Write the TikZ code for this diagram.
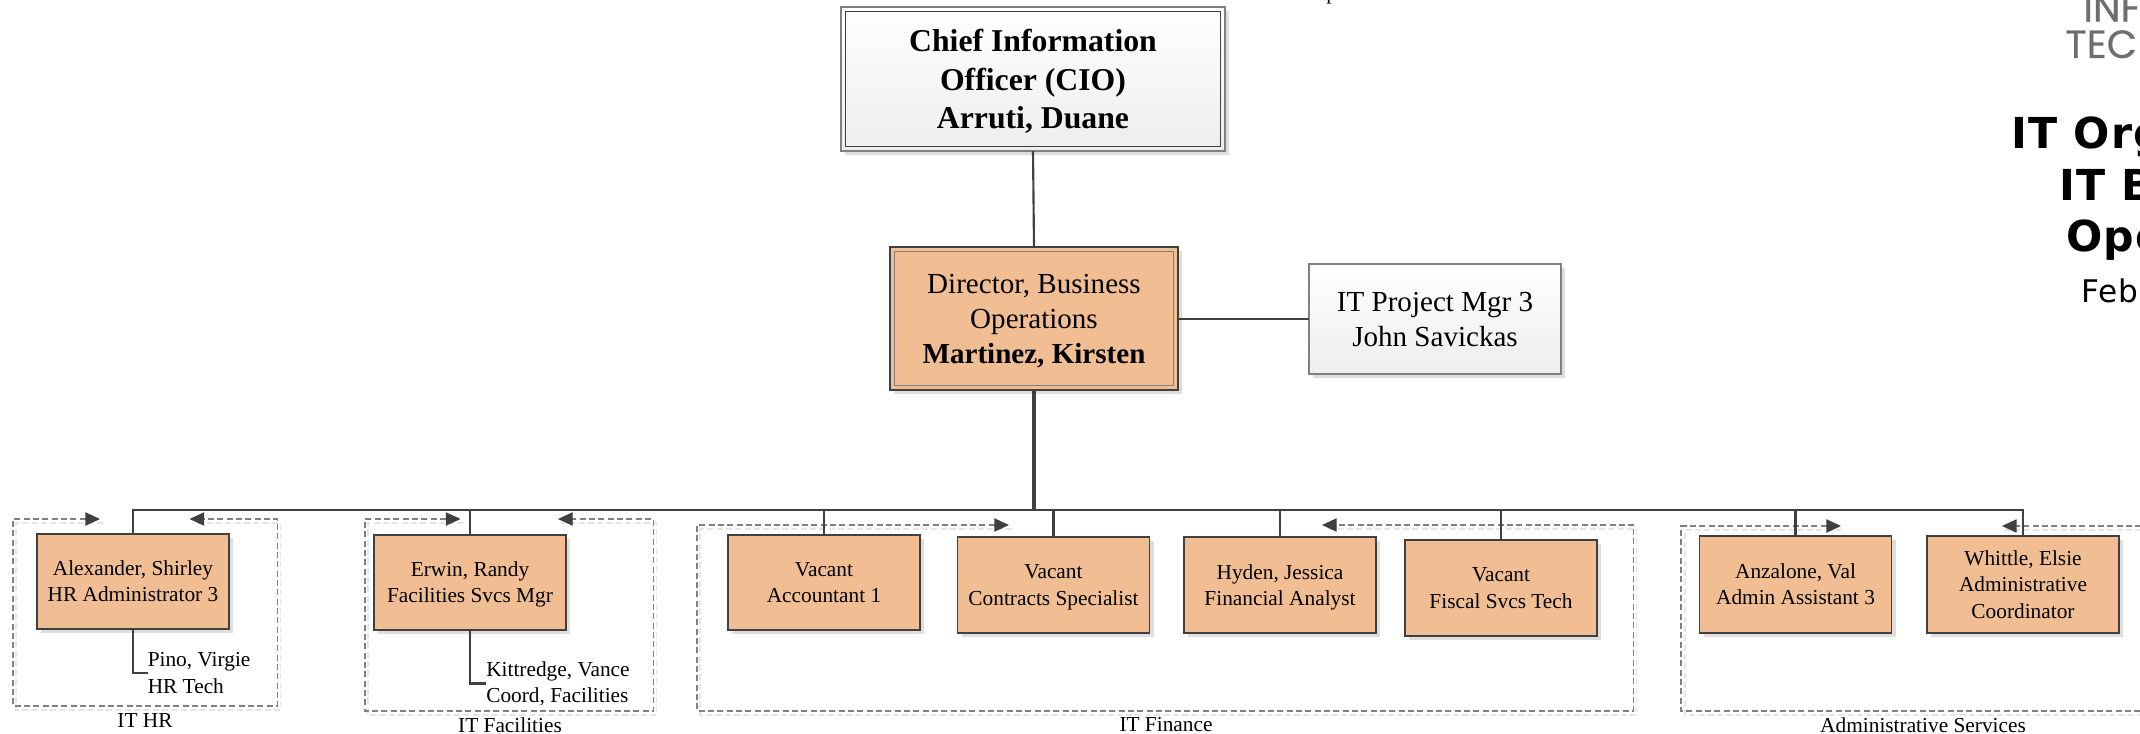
\documentclass[tikz,border=0pt]{standalone}
\usepackage{fontspec}
\setmainfont{Liberation Serif}
\newfontfamily\titlefont[LetterSpace=3]{DejaVu Sans}
\newfontfamily\logofont[FakeBold=0.5]{Poppins}
\usetikzlibrary{arrows.meta,shadows}
\definecolor{boxorange}{HTML}{F1BE94}
\definecolor{linedark}{HTML}{404040}
\definecolor{linegray}{HTML}{808080}
\definecolor{logogray}{HTML}{6D6E71}
\tikzset{
  softshadow/.style={general shadow={shadow xshift=3pt,shadow yshift=-3pt,fill=black!13}},
  box/.style={draw=linedark,line width=0.8pt,inner sep=0pt,outer sep=0pt,align=center,text depth=0pt,softshadow},
  orangebox/.style={box,fill=boxorange},
  whitebox/.style={box,draw=linegray,top color=white,bottom color=black!7},
  smalltext/.style={font=\fontsize{16}{19.6}\selectfont},
  midtext/.style={font=\fontsize{21.8}{26.3}\selectfont},
  bigtext/.style={font=\fontsize{23.8}{28.9}\selectfont\bfseries},
  leaf/.style={draw=linedark,line width=1.6pt},
  busline/.style={draw=linedark,line width=2.2pt},
  trunkline/.style={draw=linedark,line width=2.8pt},
  groupline/.style={draw=linegray,line width=0.9pt,dash pattern=on 4.5pt off 2.5pt},
  groupshadow/.style={draw=black!10,line width=1.2pt,dash pattern=on 4.5pt off 2.5pt},
  grouptips/.style={{Triangle[length=11pt,width=10pt,color=linedark]}-{Triangle[length=11pt,width=10pt,color=linedark]}},
  grouplabel/.style={smalltext,inner sep=0pt},
  titlebold/.style={anchor=base west,inner sep=0pt,font=\fontsize{32}{38}\selectfont\titlefont\bfseries},
  titleplain/.style={anchor=base west,inner sep=0pt,font=\fontsize{23.4}{28}\selectfont\titlefont},
  logotext/.style={anchor=base west,inner sep=0pt,text=logogray,font=\fontsize{29.5}{34}\selectfont\logofont},
}
\begin{document}
\begin{tikzpicture}[x=0.75pt,y=-0.75pt]
\useasboundingbox (0,0) rectangle (2140,734);

% group outlines
\foreach \a/\b/\c/\d/\e/\f in {100/13/519/706/277.5/189.5, 460.5/365/519/711/653.5/558, 1009/697/525/711/1633.5/1322}{
  \draw[groupshadow] ([shift={(3,4)}]\a,\c) -- ([shift={(3,4)}]\b,\c) -- ([shift={(3,4)}]\b,\d) -- ([shift={(3,4)}]\e,\d) -- ([shift={(3,4)}]\e,\c) -- ([shift={(3,4)}]\f,\c);
  \draw[groupline,grouptips] (\a,\c) -- (\b,\c) -- (\b,\d) -- (\e,\d) -- (\e,\c) -- (\f,\c);
}
\draw[groupshadow] (1841,530) -- (1685,530) -- (1685,715) -- (2160,715);
\draw[groupshadow] (2160,530) -- (2002,530);
\draw[groupline,{Triangle[length=11pt,width=10pt,color=linedark]}-] (1841,526) -- (1681,526) -- (1681,711) -- (2160,711);
\draw[groupline,-{Triangle[length=11pt,width=10pt,color=linedark]}] (2160,526) -- (2002,526);

% upper boxes
\node[whitebox,bigtext,minimum width=288pt,minimum height=108pt] (cio) at (1033,79) {Chief Information\\Officer (CIO)\\Arruti, Duane};
\draw[draw=linedark,line width=0.8pt] ([shift={(4.5,4.5)}]cio.north west) rectangle ([shift={(-4.5,-4.5)}]cio.south east);
\node[orangebox,midtext,minimum width=216pt,minimum height=107.25pt] (dir) at (1034,318.5) {Director, Business\\Operations\\\textbf{Martinez, Kirsten}};
\draw[draw=linegray,line width=0.8pt] ([shift={(4.5,4.5)}]dir.north west) rectangle ([shift={(-4.5,-4.5)}]dir.south east);
\node[whitebox,midtext,minimum width=189pt,minimum height=82.5pt] (proj) at (1435,319) {IT Project Mgr 3\\John Savickas};

% staff boxes
\node[orangebox,smalltext,minimum width=144pt,minimum height=71.25pt] (alex) at (133,581.5) {Alexander, Shirley\\HR Administrator 3};
\node[orangebox,smalltext,minimum width=144pt,minimum height=71.25pt] (erwin) at (470,582.5) {Erwin, Randy\\Facilities Svcs Mgr};
\node[orangebox,smalltext,minimum width=144pt,minimum height=71.25pt] (acct) at (824,582.5) {Vacant\\Accountant 1};
\node[orangebox,smalltext,minimum width=144pt,minimum height=72pt] (contr) at (1053.5,585) {Vacant\\Contracts Specialist};
\node[orangebox,smalltext,minimum width=144pt,minimum height=72pt] (hyden) at (1280,585) {Hyden, Jessica\\Financial Analyst};
\node[orangebox,smalltext,minimum width=144pt,minimum height=72pt] (fiscal) at (1501,588) {Vacant\\Fiscal Svcs Tech};
\node[orangebox,smalltext,minimum width=144pt,minimum height=72.75pt] (anz) at (1795.5,584.5) {Anzalone, Val\\Admin Assistant 3};
\node[orangebox,smalltext,minimum width=144pt,minimum height=72.75pt] (whit) at (2023,584.5) {Whittle, Elsie\\Administrative\\Coordinator};

% plain-text people
\node[smalltext,align=left,anchor=west,inner sep=0pt] (pino) at (147.5,673) {Pino, Virgie\\HR Tech};
\node[smalltext,align=left,anchor=west,inner sep=0pt] (kitt) at (486,683.5) {Kittredge, Vance\\Coord, Facilities};

% group labels
\node[grouplabel] (lhr) at (145,721) {IT HR};
\node[grouplabel] (lfac) at (510,725) {IT Facilities};
\node[grouplabel] (lfin) at (1166,725) {IT Finance};
\node[grouplabel] (ladm) at (1923,725) {Administrative Services};

% connectors
\coordinate (bus) at (1034,510);
\draw[leaf] (cio.south) -- (dir.north);
\draw[leaf] (dir.east|-proj.west) -- (proj.west);
\draw[trunkline] (dir.south) -- (bus);
\draw[busline] (alex.north) |- (bus);
\draw[busline] (whit.north) |- (bus);
\foreach \n in {erwin,acct,contr,hyden,fiscal,anz}{\draw[leaf] (\n.north) -- (\n.north|-bus);}
\draw[leaf] (alex.south) |- (pino.west);
\draw[leaf] (erwin.south) |- (kitt.west);

% text cut off by the page edge
\node[smalltext,anchor=base west,inner sep=0pt] (cut) at (1326,0) {p};
\node[logotext] (logoa) at (2083,21.7) {INF};
\node[logotext] (logob) at (2065,58) {TEC};
\node[titlebold] (ta) at (2011,149) {IT Org};
\node[titlebold] (tb) at (2059,200.7) {IT B};
\node[titlebold] (tc) at (2066,251.7) {Ope};
\node[titleplain] (td) at (2081,302.7) {Feb};
\end{tikzpicture}
\end{document}
